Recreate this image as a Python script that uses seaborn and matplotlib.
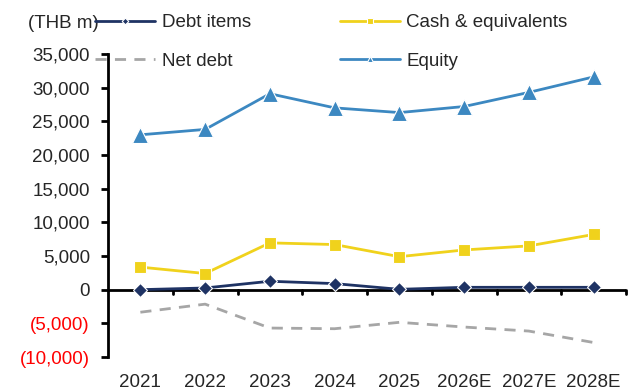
import matplotlib
matplotlib.use("Agg")
import matplotlib.pyplot as plt
import seaborn as sns
import numpy as np
import pandas as pd

years = ["2021", "2022", "2023", "2024", "2025", "2026E", "2027E", "2028E"]
debt_items = [0, 250, 1250, 900, 50, 350, 350, 350]
cash = [3350, 2400, 6950, 6700, 4900, 5900, 6500, 8200]
net_debt = [-3350, -2150, -5700, -5800, -4850, -5550, -6150, -7850]
equity = [23000, 23800, 29100, 27000, 26300, 27200, 29300, 31600]
y_ticks = [-10000, -5000, 0, 5000, 10000, 15000, 20000, 25000, 30000, 35000]

sns.set_theme(style="white")
plt.rcParams['font.family'] = ['Liberation Sans', 'DejaVu Sans']
FS = 13.5

df = pd.DataFrame({"x": np.arange(len(years)), "Debt items": debt_items,
                   "Cash & equivalents": cash, "Net debt": net_debt, "Equity": equity})

fig = plt.figure(figsize=(6.28, 3.92), dpi=100)
ax = fig.add_axes([108/628, 1-357/392, (626-108)/628, (357-54)/392])

navy = "#1F3364"
yellow = "#F0D21C"
blue = "#3C88C1"
grey = "#A6A6A6"

sns.lineplot(data=df, x="x", y="Net debt", ax=ax, color=grey, lw=2,
             linestyle=(0, (4, 3)), label="Net debt", zorder=2)
sns.lineplot(data=df, x="x", y="Cash & equivalents", ax=ax, color=yellow, lw=2,
             marker="s", markersize=9, markeredgecolor="white", markeredgewidth=0.8,
             label="Cash & equivalents", zorder=3)
sns.lineplot(data=df, x="x", y="Equity", ax=ax, color=blue, lw=2,
             marker="^", markersize=11, markeredgecolor="white", markeredgewidth=0.8,
             label="Equity", zorder=3)
sns.lineplot(data=df, x="x", y="Debt items", ax=ax, color=navy, lw=2,
             marker="D", markersize=7.5, markeredgecolor="white", markeredgewidth=0.8,
             label="Debt items", zorder=4)

ax.set_xlim(-0.5, 7.5)
ax.set_ylim(-10000, 35000)
ax.set_xlabel("")
ax.set_ylabel("")

for s in ["top", "right", "bottom"]:
    ax.spines[s].set_visible(False)
ax.spines["left"].set_color("black")
ax.spines["left"].set_linewidth(2)
ax.axhline(0, color="black", lw=2, zorder=1)

ax.set_yticks(y_ticks)
labels = []
for v in y_ticks:
    if v < 0:
        labels.append("({:,})".format(-v))
    else:
        labels.append("{:,}".format(v))
ax.set_yticklabels(labels, fontsize=FS)
for t, v in zip(ax.get_yticklabels(), y_ticks):
    if v < 0:
        t.set_color("red")
ax.tick_params(axis="y", which="major", direction="out", length=5, width=2,
               color="black", left=True, pad=8)

ax.set_xticks(np.arange(len(years)))
ax.set_xticklabels(years, fontsize=FS)
ax.tick_params(axis="x", which="major", length=0, pad=12, bottom=True)

# tick marks between categories on zero line
for xm in np.arange(0.5, 8.0, 1.0):
    ax.plot([xm, xm], [0, -700], color="black", lw=2, zorder=1, clip_on=False)

if ax.legend_:
    ax.legend_.remove()
h, l = ax.get_legend_handles_labels()
order = ["Debt items", "Net debt", "Cash & equivalents", "Equity"]
hd = dict(zip(l, h))
fig.legend([hd[k] for k in order], order, ncol=2, frameon=False, fontsize=FS,
           loc="upper left", bbox_to_anchor=(95/628, 1-14/392),
           borderpad=0, borderaxespad=0, handlelength=3.2, handletextpad=0.35,
           columnspacing=4.75, labelspacing=1.15, markerscale=0.45)

fig.text(28/628, 1-23/392, "(THB m)", fontsize=FS, va="center", ha="left")

fig.savefig("out.png", dpi=100)
